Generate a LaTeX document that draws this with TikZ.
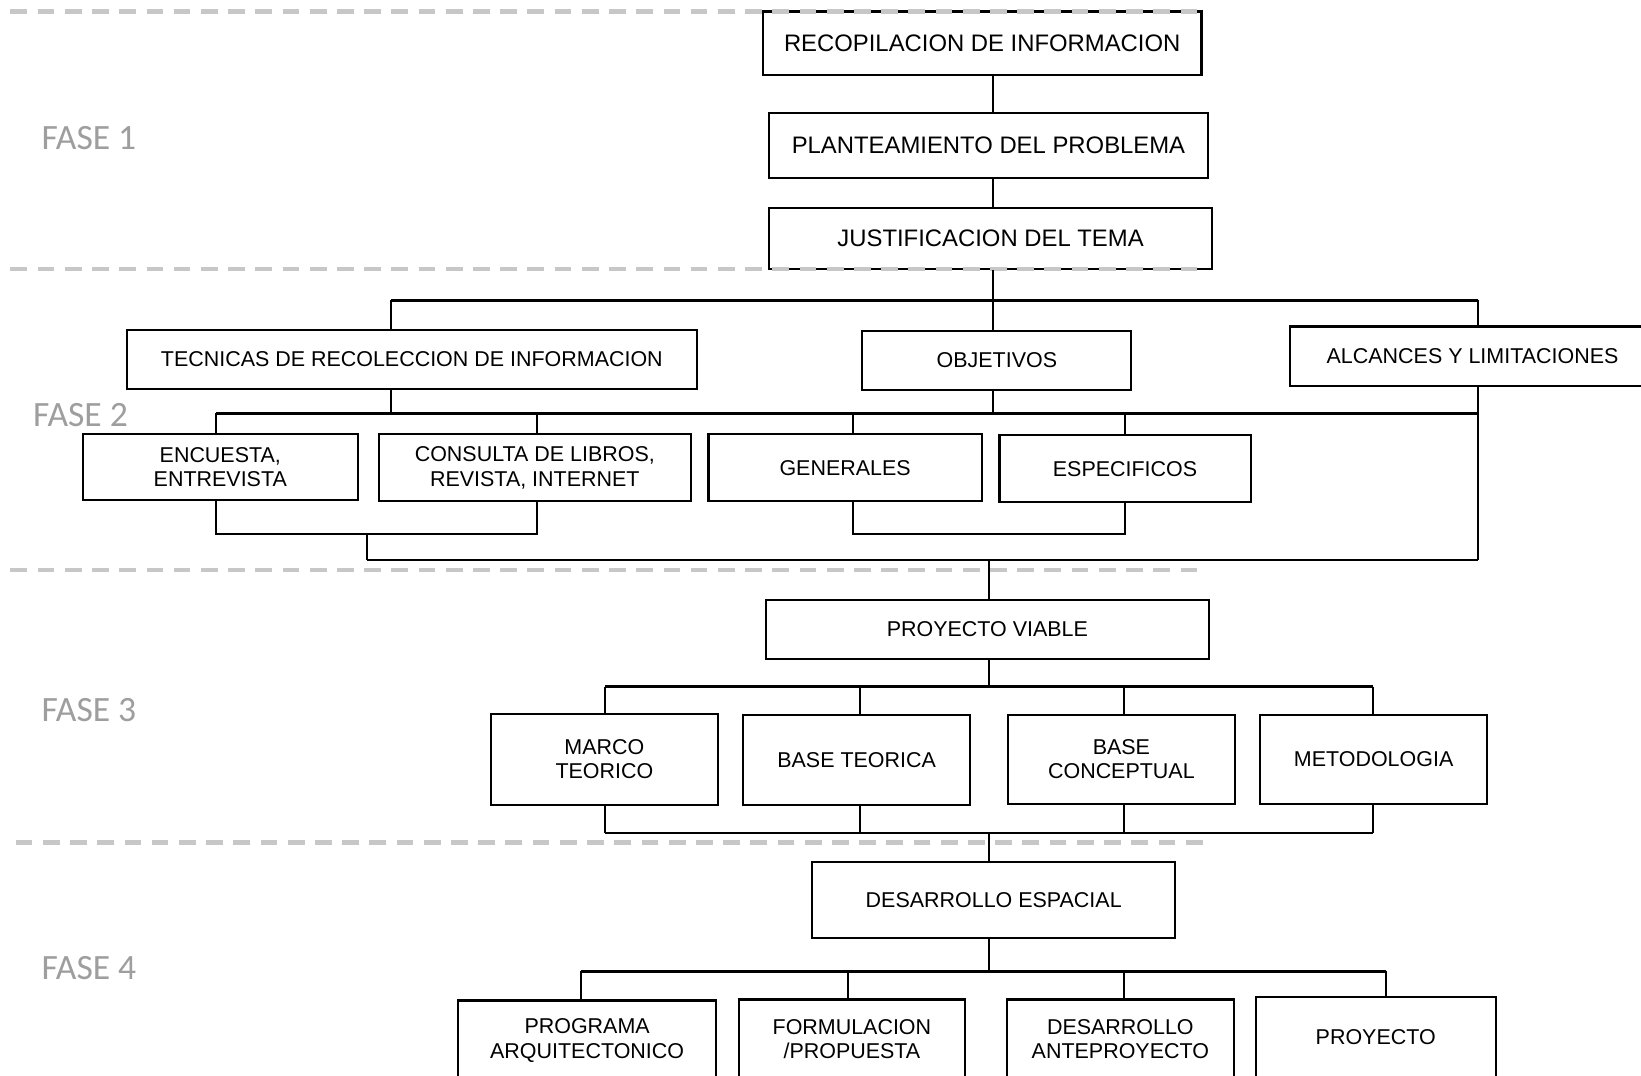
\documentclass[tikz,border=0pt]{standalone}
\usepackage{fontspec}
\setmainfont{Liberation Sans}
\newfontfamily\fasefont{Carlito}
\begin{document}
\begin{tikzpicture}[x=1pt,y=-1pt,
  box/.style={draw=black, line width=2pt, fill=white, align=center, inner sep=0pt, font=\fontsize{20.5}{23.5}\selectfont},
  bigbox/.style={box, font=\fontsize{22.8}{26}\selectfont},
  conn/.style={line width=2pt},
  bar/.style={line width=2.6pt},
  phase/.style={draw=black!22, line width=4pt, dash pattern=on 16pt off 10pt},
  faselbl/.style={text=black!38, font=\fasefont\fontsize{34}{40}\selectfont, inner sep=0pt}]
\useasboundingbox (0,0) rectangle (1568,1028);
\clip (0,0) rectangle (1568,1028);
\fill[white] (0,0) rectangle (1568,1028);

% phase labels
\node[faselbl] (f1) at (85,132) {FASE 1};
\node[faselbl] (f2) at (77,397) {FASE 2};
\node[faselbl] (f3) at (85,678) {FASE 3};
\node[faselbl] (f4) at (85,925) {FASE 4};

% FASE 1
\node[bigbox, minimum width=419pt, minimum height=61pt] (r1) at (938.5,41.5) {RECOPILACION DE INFORMACION};
\node[bigbox, minimum width=419pt, minimum height=62pt] (r2) at (944.5,139) {PLANTEAMIENTO DEL PROBLEMA};
\node[bigbox, minimum width=423pt, minimum height=58pt] (r3) at (946.5,228) {JUSTIFICACION DEL TEMA};

% FASE 2
\node[box, minimum width=545pt, minimum height=57pt] (tec) at (393.5,343.5) {TECNICAS DE RECOLECCION DE INFORMACION};
\node[box, minimum width=257pt, minimum height=57pt] (obj) at (952.5,344.5) {OBJETIVOS};
\node[box, minimum width=348pt, minimum height=57pt] (alc) at (1407,340.5) {ALCANCES Y LIMITACIONES};
\node[box, minimum width=263pt, minimum height=63pt] (enc) at (210.5,446.5) {ENCUESTA,\\ENTREVISTA};
\node[box, minimum width=298pt, minimum height=64pt] (con) at (511,447) {CONSULTA DE LIBROS,\\REVISTA, INTERNET};
\node[box, minimum width=261pt, minimum height=64pt] (gen) at (807.5,447) {GENERALES};
\node[box, minimum width=240pt, minimum height=64pt] (esp) at (1075,448) {ESPECIFICOS};

% FASE 3
\node[box, minimum width=423pt, minimum height=57pt] (pv) at (943.5,601.5) {PROYECTO VIABLE};
\node[box, minimum width=217pt, minimum height=87pt] (mt) at (577.5,725.5) {MARCO\\TEORICO};
\node[box, minimum width=217pt, minimum height=86pt] (bt) at (818.5,726) {BASE TEORICA};
\node[box, minimum width=217pt, minimum height=85pt] (bc) at (1071.5,725.5) {BASE\\CONCEPTUAL};
\node[box, minimum width=217pt, minimum height=85pt] (met) at (1312.5,725.5) {METODOLOGIA};

% FASE 4
\node[box, minimum width=347pt, minimum height=72pt] (de) at (949.5,860) {DESARROLLO ESPACIAL};
\node[box, minimum width=246pt, minimum height=76pt] (pa) at (561,994) {PROGRAMA\\ARQUITECTONICO};
\node[box, minimum width=216pt, minimum height=76pt] (fp) at (814,993) {FORMULACION\\/PROPUESTA};
\node[box, minimum width=217pt, minimum height=76pt] (da) at (1070.5,993) {DESARROLLO\\ANTEPROYECTO};
\node[box, minimum width=229pt, minimum height=76pt] (pr) at (1314.5,991) {PROYECTO};

% phase separators (over the box borders, under the connectors)
\draw[phase] (10,11) -- (1150,11);
\draw[phase] (10,257) -- (1150,257);
\draw[phase] (10,545) -- (1150,545);
\draw[phase] (15,805) -- (1155,805);

% coordinates
\coordinate (c949) at (949,0);
\coordinate (b1) at (949,287);
\coordinate (b1l) at (374,287);
\coordinate (b1r) at (1412,287);
\coordinate (b2l) at (206,395);
\coordinate (b2r) at (1412,395);
\coordinate (x513) at (513,395);
\coordinate (x815) at (815,395);
\coordinate (x1075) at (1075,395);
\coordinate (k1l) at (206,510);
\coordinate (k1r) at (513,510);
\coordinate (k1m) at (351,510);
\coordinate (k2l) at (815,510);
\coordinate (k2r) at (1075,510);
\coordinate (b3l) at (351,535);
\coordinate (b3r) at (1412,535);
\coordinate (b3m) at (945,535);
\coordinate (b4m) at (945,656);
\coordinate (b4l) at (578,656);
\coordinate (b4r) at (1312,656);
\coordinate (x822) at (822,656);
\coordinate (x1074) at (1074,656);
\coordinate (b5l) at (578,796);
\coordinate (b5r) at (1312,796);
\coordinate (b5m) at (945,796);
\coordinate (b6m) at (945,928);
\coordinate (b6l) at (555,928);
\coordinate (b6r) at (1324,928);
\coordinate (x810) at (810,928);
\coordinate (y1074) at (1074,928);

% FASE 1 connectors
\draw[conn] (c949 |- r1.south) -- (c949 |- r2.north);
\draw[conn] (c949 |- r2.south) -- (c949 |- r3.north);
\draw[conn] (c949 |- r3.south) -- (b1);

% FASE 2 connectors
\draw[bar] (b1l) -- (b1r);
\draw[conn] (b1l) -- (b1l |- tec.north);
\draw[conn] (b1) -- (b1 |- obj.north);
\draw[conn] (b1r) -- (b1r |- alc.north);
\draw[conn] (b1l |- tec.south) -- (b1l |- b2l);
\draw[conn] (b1 |- obj.south) -- (b1 |- b2l);
\draw[bar] (b2l) -- (b2r);
\draw[conn] (b2l) -- (b2l |- enc.north);
\draw[conn] (x513) -- (x513 |- con.north);
\draw[conn] (x815) -- (x815 |- gen.north);
\draw[conn] (x1075) -- (x1075 |- esp.north);
\draw[conn] (b1r |- alc.south) -- (b3r);
\draw[conn] (k1l |- enc.south) -- (k1l) -- (k1r) -- (k1r |- con.south);
\draw[conn] (k2l |- gen.south) -- (k2l) -- (k2r) -- (k2r |- esp.south);
\draw[conn] (k1m) -- (b3l);
\draw[bar] (b3l) -- (b3r);

% FASE 3 connectors
\draw[conn] (b3m) -- (b3m |- pv.north);
\draw[conn] (b3m |- pv.south) -- (b4m);
\draw[bar] (b4l) -- (b4r);
\draw[conn] (b4l) -- (b4l |- mt.north);
\draw[conn] (x822) -- (x822 |- bt.north);
\draw[conn] (x1074) -- (x1074 |- bc.north);
\draw[conn] (b4r) -- (b4r |- met.north);
\draw[conn] (b5l |- mt.south) -- (b5l);
\draw[conn] (x822 |- bt.south) -- (x822 |- b5l);
\draw[conn] (x1074 |- bc.south) -- (x1074 |- b5l);
\draw[conn] (b5r |- met.south) -- (b5r);
\draw[bar] (b5l) -- (b5r);

% FASE 4 connectors
\draw[conn] (b5m) -- (b5m |- de.north);
\draw[conn] (b5m |- de.south) -- (b6m);
\draw[bar] (b6l) -- (b6r);
\draw[conn] (b6l) -- (b6l |- pa.north);
\draw[conn] (x810) -- (x810 |- fp.north);
\draw[conn] (y1074) -- (y1074 |- da.north);
\draw[conn] (b6r) -- (b6r |- pr.north);
\end{tikzpicture}
\end{document}
